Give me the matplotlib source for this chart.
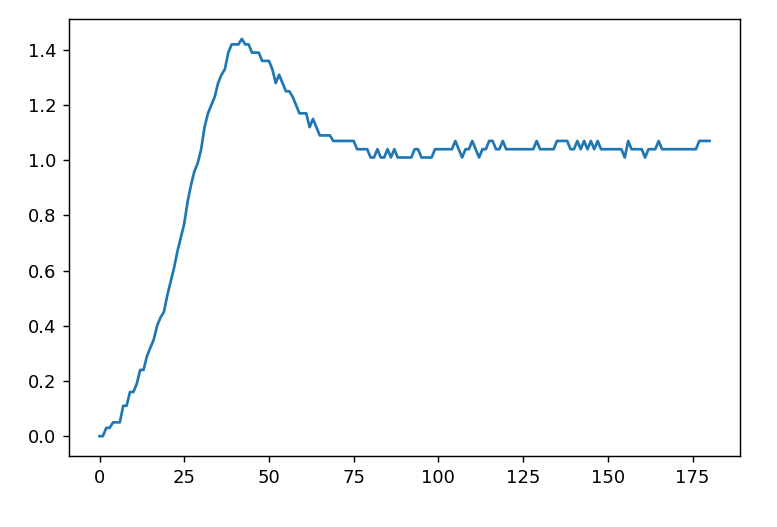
import matplotlib
matplotlib.use("Agg")
import matplotlib.pyplot as plt

# step response, one sample per step
y_vals = [
    0.00, 0.00, 0.03, 0.03, 0.05, 0.05, 0.05, 0.11, 0.11, 0.16,
    0.16, 0.19, 0.24, 0.24, 0.29, 0.32, 0.35, 0.40, 0.43, 0.45,
    0.51, 0.56, 0.61, 0.67, 0.72, 0.77, 0.85, 0.91, 0.96, 0.99,
    1.04, 1.12, 1.17, 1.20, 1.23, 1.28, 1.31, 1.33, 1.39, 1.42,
    1.42, 1.42, 1.44, 1.42, 1.42, 1.39, 1.39, 1.39, 1.36, 1.36,
    1.36, 1.33, 1.28, 1.31, 1.28, 1.25, 1.25, 1.23, 1.20, 1.17,
    1.17, 1.17, 1.12, 1.15, 1.12, 1.09, 1.09, 1.09, 1.09, 1.07,
    1.07, 1.07, 1.07, 1.07, 1.07, 1.07, 1.04, 1.04, 1.04, 1.04,
    1.01, 1.01, 1.04, 1.01, 1.01, 1.04, 1.01, 1.04, 1.01, 1.01,
    1.01, 1.01, 1.01, 1.04, 1.04, 1.01, 1.01, 1.01, 1.01, 1.04,
    1.04, 1.04, 1.04, 1.04, 1.04, 1.07, 1.04, 1.01, 1.04, 1.04,
    1.07, 1.04, 1.01, 1.04, 1.04, 1.07, 1.07, 1.04, 1.04, 1.07,
    1.04, 1.04, 1.04, 1.04, 1.04, 1.04, 1.04, 1.04, 1.04, 1.07,
    1.04, 1.04, 1.04, 1.04, 1.04, 1.07, 1.07, 1.07, 1.07, 1.04,
    1.04, 1.07, 1.04, 1.07, 1.04, 1.07, 1.04, 1.07, 1.04, 1.04,
    1.04, 1.04, 1.04, 1.04, 1.04, 1.01, 1.07, 1.04, 1.04, 1.04,
    1.04, 1.01, 1.04, 1.04, 1.04, 1.07, 1.04, 1.04, 1.04, 1.04,
    1.04, 1.04, 1.04, 1.04, 1.04, 1.04, 1.04, 1.07, 1.07, 1.07, 1.07,
]
x_vals = list(range(len(y_vals)))

dpi = 130
fig = plt.figure(figsize=(777 / dpi, 527 / dpi), dpi=dpi)
ax = fig.add_axes([69 / 777, 71 / 527, (740 - 69) / 777, (456 - 19) / 527])

ax.plot(x_vals, y_vals, color="#1f77b4", linewidth=1.5)

fig.savefig("out.png", dpi=dpi)
